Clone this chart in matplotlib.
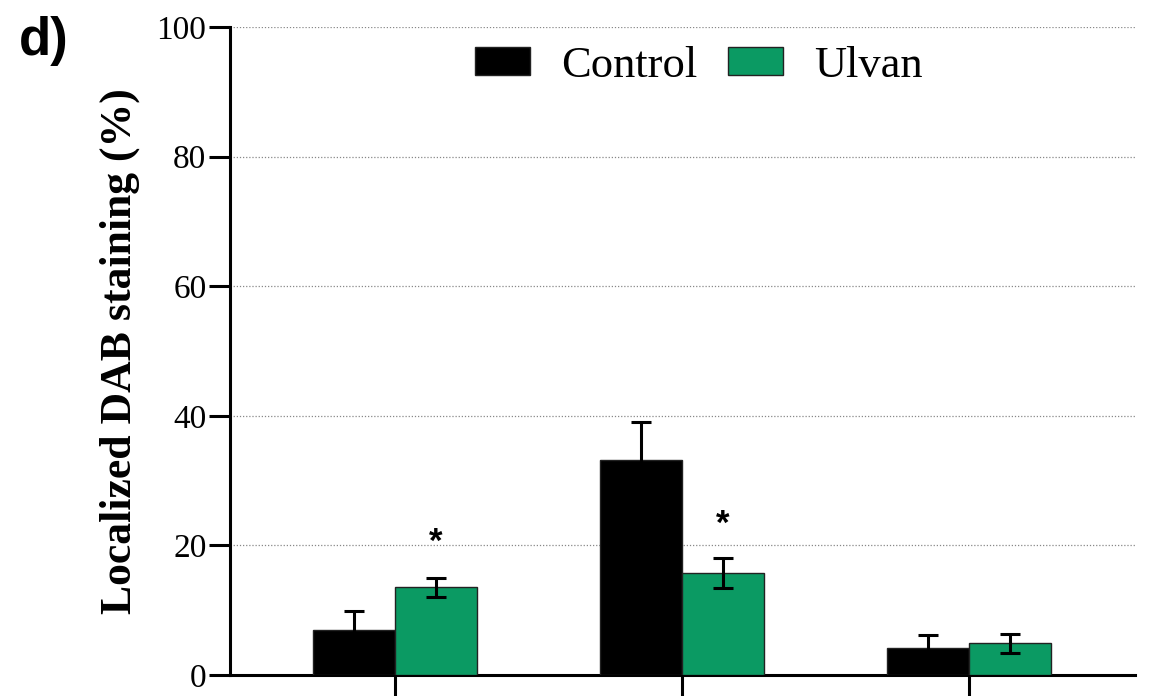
import numpy as np
import matplotlib.pyplot as plt

# values
groups = ['', '', '']
control = [7.0, 33.1, 4.2]
control_err = [2.9, 5.9, 2.0]
ulvan = [13.5, 15.7, 4.9]
ulvan_err = [1.5, 2.3, 1.5]
star_y = [21.2, 24.0, None]  # significance marks above Ulvan bars

green = '#0b9a63'

fig = plt.figure(figsize=(11.5, 6.96), dpi=100)
ax = fig.add_axes([0.2, 0.0302, 0.787, 0.9311])

x = np.arange(len(groups))
w = 0.286

ax.bar(x - w/2, control, w, color='black', edgecolor='#222222', linewidth=1,
       label='Control', zorder=3)
ax.bar(x + w/2, ulvan, w, color=green, edgecolor='#222222', linewidth=1,
       label='Ulvan', zorder=3)
ax.errorbar(x - w/2, control, yerr=control_err, fmt='none', ecolor='black',
            elinewidth=2.2, capsize=7.5, capthick=2.2, zorder=4)
ax.errorbar(x + w/2, ulvan, yerr=ulvan_err, fmt='none', ecolor='black',
            elinewidth=2.2, capsize=7.5, capthick=2.2, zorder=4)

for xi, sy in zip(x, star_y):
    if sy is not None:
        # shift so the glyph centre sits on sy
        ax.annotate('*', (xi + w/2, sy), xytext=(0, -10.3), textcoords='offset points',
                    ha='center', va='baseline', fontsize=25,
                    fontweight='bold', family='Liberation Sans')

ax.set_ylim(0, 100)
ax.set_xlim(-0.575, 2.58)
ax.set_yticks([0, 20, 40, 60, 80, 100])
ax.set_xticks(x)
ax.set_xticklabels(groups)
ax.yaxis.grid(True, linestyle=(0, (1, 1.5)), color='#888888', linewidth=0.9, zorder=0)

for s in ['top', 'right']:
    ax.spines[s].set_visible(False)
ax.spines['left'].set_linewidth(2.2)
ax.spines['bottom'].set_linewidth(2.2)
ax.tick_params(axis='y', length=15, width=2.2, labelsize=24, pad=2)
ax.tick_params(axis='x', length=16, width=2.2)
for lbl in ax.get_yticklabels():
    lbl.set_family('Liberation Serif')

ax.set_ylabel('Localized DAB staining (%)', family='Liberation Serif',
              fontweight='bold', fontsize=31.5, labelpad=12)

ax.legend(loc='center', bbox_to_anchor=(0.518, 0.94), ncol=2, frameon=False,
          prop={'family': 'Liberation Serif', 'size': 32},
          handlelength=1.24, handleheight=0.6, columnspacing=0.68, handletextpad=0.7)

fig.text(0.016, 0.977, 'd)', family='Liberation Sans', fontweight='bold',
         fontsize=38, va='top', ha='left')

fig.savefig('out.png', dpi=100)
